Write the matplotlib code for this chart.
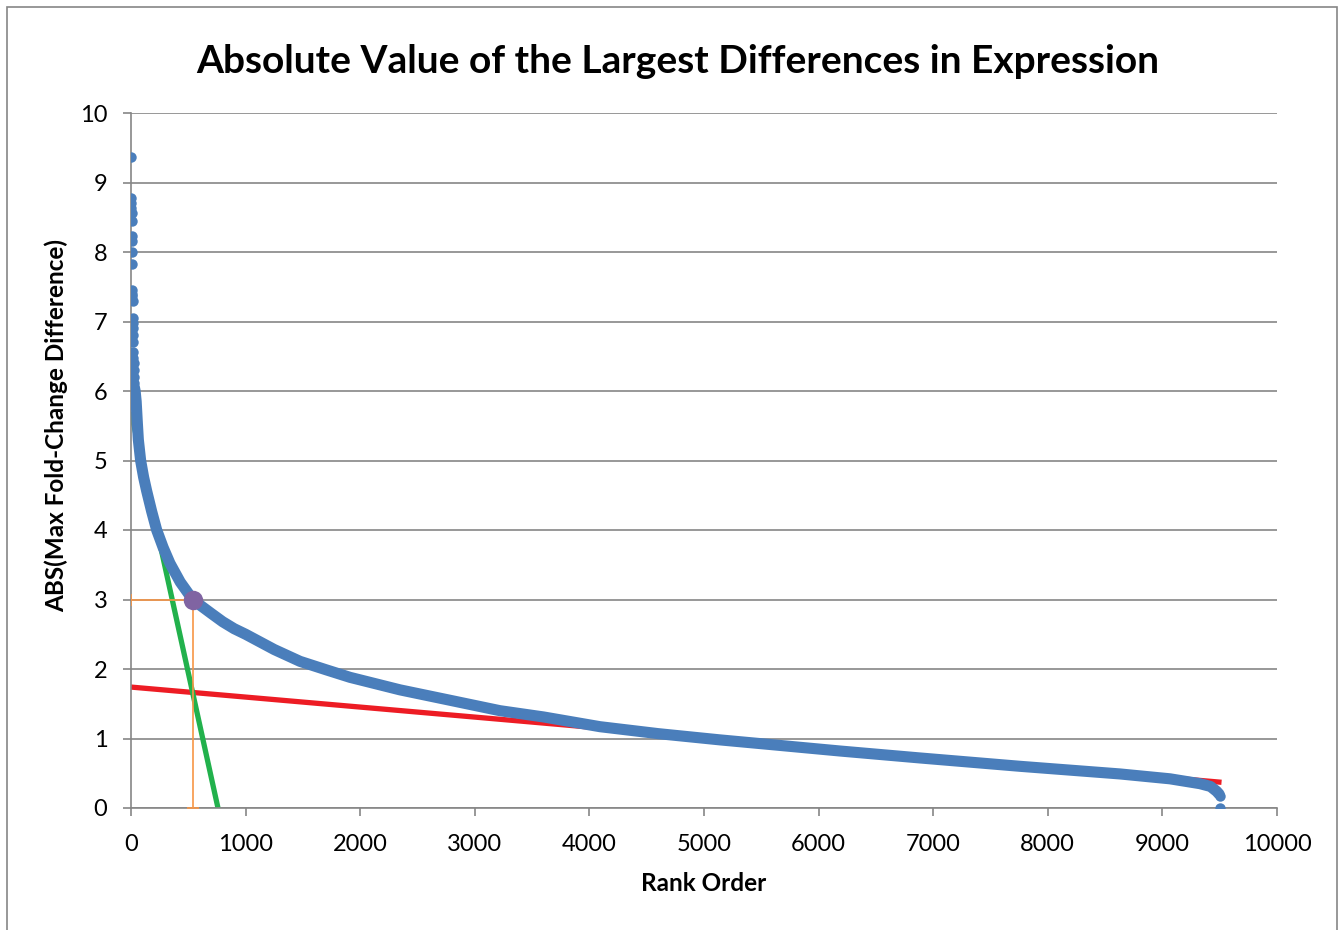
import matplotlib
matplotlib.use('Agg')
import matplotlib.pyplot as plt
from matplotlib.patches import Rectangle

plt.rcParams['font.family'] = ['Lato', 'DejaVu Sans']

# pontos isolados no topo da curva (rank, valor)
top_rank = [1, 2, 3, 4, 5, 6, 7, 8, 9, 10, 11, 12, 13, 14, 15, 16, 17, 18, 19,
            20, 21, 22, 24, 26, 28]
top_val = [9.37, 8.77, 8.70, 8.63, 8.56, 8.44, 8.23, 8.16, 8.00, 7.83, 7.45,
           7.40, 7.36, 7.30, 7.05, 6.98, 6.90, 6.80, 6.70, 6.56, 6.48, 6.40,
           6.30, 6.20, 6.11]

# parte densa da curva
curve_rank = [30, 36, 45, 55, 64, 84, 110, 137, 180, 224, 280, 340, 430, 538,
              602, 700, 800, 900, 1000, 1250, 1475, 1700, 1911, 2347, 2784,
              3220, 3600, 4092, 4600, 5140, 5600, 6187, 6885, 7757, 8630, 9066,
              9328, 9420, 9473, 9495]
curve_val = [6.05, 6.00, 5.85, 5.55, 5.30, 5.00, 4.76, 4.56, 4.27, 4.00, 3.75,
             3.52, 3.25, 3.00, 2.92, 2.80, 2.68, 2.58, 2.50, 2.28, 2.11, 1.99,
             1.88, 1.70, 1.55, 1.40, 1.31, 1.17, 1.07, 0.98, 0.91, 0.82, 0.72,
             0.60, 0.49, 0.42, 0.35, 0.31, 0.24, 0.20]

# pontos finais
end_rank = [9500, 9501]
end_val = [0.17, 0.0]

# linhas de tendencia
green_x = [0, 759]
green_y = [5.70, 0.0]
red_x = [0, 9516]
red_y = [1.74, 0.37]

# ponto de corte
cut_x = 541
cut_y = 3.0

blue = '#4A7EBB'
gray = '#868686'

fig = plt.figure(figsize=(13.44, 9.30), dpi=100)
ax = fig.add_axes([131 / 1344, 1 - 808 / 930, 1146 / 1344, 695 / 930])

ax.plot(red_x, red_y, color='#ED1C24', lw=3.8, zorder=2, solid_capstyle='butt')
ax.plot(green_x, green_y, color='#22B14C', lw=3.8, zorder=2, solid_capstyle='butt')

ax.plot(curve_rank, curve_val, color=blue, lw=8, solid_capstyle='round',
        solid_joinstyle='round', zorder=3)
ax.plot(top_rank, top_val, 'o', color=blue, ms=7.5, mec='none', zorder=3)
ax.plot(end_rank, end_val, 'o', color=blue, ms=7.5, mec='none', zorder=3)

ax.errorbar([cut_x], [cut_y], xerr=[[cut_x], [0]], yerr=[[cut_y], [0]],
            fmt='none', ecolor='#F79646', elinewidth=1.2, capsize=4,
            capthick=1.2, zorder=4)
ax.plot([cut_x], [cut_y], 'o', color='#8064A2', ms=14, mec='none', zorder=5)

ax.set_xlim(0, 10000)
ax.set_ylim(0, 10)
ax.set_xticks(range(0, 10001, 1000))
ax.set_yticks(range(0, 11))
ax.grid(axis='y', color=gray, lw=1.2)
ax.set_axisbelow(True)

for s in ['top', 'right']:
    ax.spines[s].set_visible(False)
for s in ['left', 'bottom']:
    ax.spines[s].set_color(gray)
    ax.spines[s].set_linewidth(1.2)
ax.tick_params(axis='both', colors=gray, labelcolor='black', labelsize=17,
               length=6, width=1.2, direction='out')
ax.tick_params(axis='x', pad=13)
ax.tick_params(axis='y', pad=11)

ax.set_title('Absolute Value of the Largest Differences in Expression',
             fontsize=28, fontweight='bold', pad=29, x=(678 - 131) / 1146)
ax.set_xlabel('Rank Order', fontsize=17.5, fontweight='bold', labelpad=12)
ax.set_ylabel('ABS(Max Fold-Change Difference)', fontsize=17.5,
              fontweight='bold')
ax.yaxis.set_label_coords(-0.055, 0.55)

# moldura externa do grafico
fig.patches.append(Rectangle((7 / 1344, -0.02), 1330 / 1344, 1.02 - 7 / 930,
                             transform=fig.transFigure, fill=False,
                             edgecolor=gray, lw=1.2))

plt.savefig('out.png', dpi=100)
